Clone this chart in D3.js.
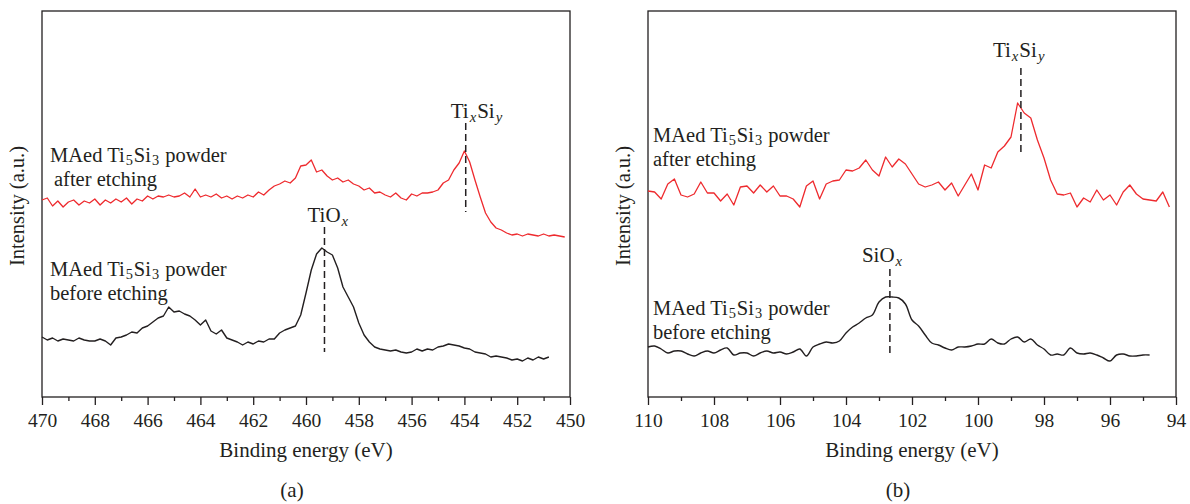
<!DOCTYPE html>
<html>
<head>
<meta charset="utf-8">
<script src="https://cdn.jsdelivr.net/npm/d3@7"></script>
<style>
  body { margin: 0; background: #fff; }
  svg { display: block; font-family: "Liberation Serif", "Times New Roman", serif; fill: #231f20; }
</style>
</head>
<body>
<svg id="chart" width="1190" height="504"></svg>
<script>
(function () {
  /* -- DATA ----------------------------------------------- */
  // spectra sampled every 0.2 eV from the start energy downwards (a.u.)
  var STEP = 0.2;

  // (a) Ti 2p region
  var aStart = 470;
  var aAfter = [
    197, 199, 191, 196, 190, 195, 197, 192, 196, 194,
    198, 192, 197, 194, 198, 195, 199, 193, 198, 196,
    201, 198, 201, 200, 202, 200, 201, 204, 200, 208,
    200, 202, 200, 203, 199, 201, 198, 201, 199, 202,
    200, 205, 202, 207, 211, 213, 216, 214, 219, 231,
    232, 237, 225, 227, 221, 217, 219, 215, 217, 213,
    211, 207, 209, 204, 205, 202, 200, 204, 199, 197,
    203, 201, 204, 204, 205, 207, 214, 217, 227, 234,
    246, 235, 217, 200, 184, 175, 169, 167, 164, 162,
    163, 161, 163, 162, 161, 163, 161, 162, 161, 160
  ];
  var aBefore = [
    60, 57, 59, 56, 58, 57, 56, 59, 57, 56,
    56, 58, 56, 52, 59, 60, 62, 65, 64, 69,
    71, 75, 79, 81, 90, 85, 86, 83, 81, 77,
    72, 77, 66, 63, 67, 59, 57, 55, 52, 55,
    53, 56, 55, 58, 58, 64, 67, 69, 71, 82,
    104, 127, 143, 149, 145, 142, 129, 110, 100, 90,
    74, 62, 55, 50, 48, 47, 46, 47, 45, 44,
    45, 48, 46, 48, 47, 50, 51, 53, 52, 51,
    49, 48, 45, 44, 43, 40, 41, 40, 39, 37,
    38, 36, 39, 37, 40, 38, 40
  ];
  var aTickLabels = [470, 468, 466, 464, 462, 460, 458, 456, 454, 452, 450];
  var aMinorTicks = [469, 467, 465, 463, 461, 459, 457, 455, 453, 451];

  // (b) Si 2p region
  var bStart = 110;
  var bAfter = [
    206, 205, 198, 213, 218, 202, 200, 203, 215, 204,
    204, 196, 203, 192, 210, 211, 204, 212, 205, 211,
    201, 201, 198, 190, 211, 216, 198, 213, 216, 217,
    227, 226, 229, 237, 227, 221, 240, 230, 238, 233,
    223, 213, 210, 212, 215, 207, 214, 201, 212, 223,
    207, 232, 229, 245, 251, 260, 294, 284, 279, 257,
    239, 217, 203, 202, 204, 190, 199, 195, 207, 197,
    202, 192, 205, 212, 203, 198, 197, 196, 205, 190
  ];
  var bBefore = [
    50, 51, 48, 44, 46, 46, 43, 41, 44, 46,
    44, 47, 49, 42, 44, 44, 41, 44, 46, 44,
    45, 43, 45, 48, 41, 50, 53, 55, 54, 56,
    64, 70, 74, 79, 82, 95, 100, 100, 99, 93,
    77, 71, 62, 54, 52, 49, 47, 50, 50, 51,
    53, 53, 58, 54, 53, 58, 60, 55, 58, 52,
    48, 42, 43, 42, 49, 44, 43, 44, 42, 39,
    36, 42, 43, 41, 41, 42, 42
  ];
  var bTickLabels = [110, 108, 106, 104, 102, 100, 98, 96, 94];
  var bMinorTicks = [109, 107, 105, 103, 101, 99, 97, 95];

  // peak markers: energy (eV) and dashed extent (a.u.)
  var aPeaks = [
    { parts: [['Ti'], ['x', 'sub i'], ['Si'], ['y', 'sub i']], e: 453.95, top: 274, bottom: 185, dx: -15, ty: 118 },
    { parts: [['TiO'], ['x', 'sub i']], e: 459.3, top: 170, bottom: 45, dx: -17, ty: 222 }
  ];
  var bPeaks = [
    { parts: [['Ti'], ['x', 'sub i'], ['Si'], ['y', 'sub i']], e: 98.7, top: 329, bottom: 245, dx: -28, ty: 57 },
    { parts: [['SiO'], ['x', 'sub i']], e: 102.67, top: 128, bottom: 40, dx: -28, ty: 262 }
  ];

  var SAMPLE = [['MAed Ti'], ['5', 'sub'], ['Si'], ['3', 'sub'], [' powder']];

  /* -- DRAW ----------------------------------------------- */
  var INK = '#231f20';
  var RED = '#ee2a2e';
  var TOP = 11, BOTTOM = 397;
  var FS = 21;
  var LABEL_FS = 20.5;

  var svg = d3.select('#chart');

  function richText(sel, x, y, parts, size, drop) {
    var t = sel.append('text')
      .attr('x', x)
      .attr('y', y)
      .attr('font-size', size)
      .attr('fill', INK);
    var shift = 0;
    parts.forEach(function (p) {
      var flags = p[1] || '';
      var want = flags.indexOf('sub') >= 0 ? drop : 0;
      var s = t.append('tspan').text(p[0]).attr('dy', want - shift);
      if (want || shift) s.attr('dx', 1);
      shift = want;
      if (want) s.attr('font-size', size * 0.7);
      if (/\bi\b/.test(flags)) s.attr('font-style', 'italic');
    });
    return t;
  }

  function series(start, values) {
    return values.map(function (v, i) { return { e: start - i * STEP, v: v }; });
  }

  function drawPanel(o) {
    var g = svg.append('g');

    var x = d3.scaleLinear().domain(o.domain).range([o.left, o.right]);
    var y = d3.scaleLinear().domain([0, 386]).range([BOTTOM, TOP]);

    // frame
    g.append('rect')
      .attr('x', o.left).attr('y', TOP)
      .attr('width', o.right - o.left).attr('height', BOTTOM - TOP)
      .attr('fill', 'none')
      .attr('stroke', INK)
      .attr('stroke-width', 1.3);

    // major ticks + labels
    var ax = g.append('g')
      .attr('transform', 'translate(0,' + BOTTOM + ')')
      .style('color', INK)
      .call(d3.axisBottom(x).tickValues(o.ticks).tickSize(8).tickFormat(d3.format('d')));
    ax.attr('font-family', null).attr('font-size', null);
    ax.select('.domain').remove();
    ax.selectAll('line').attr('stroke-width', 1.3);
    ax.selectAll('text').attr('y', 30).attr('dy', 0).attr('font-size', 19.5).attr('fill', INK);

    // minor ticks
    var mx = g.append('g')
      .attr('transform', 'translate(0,' + BOTTOM + ')')
      .style('color', INK)
      .call(d3.axisBottom(x).tickValues(o.minor).tickSize(4).tickFormat(''));
    mx.select('.domain').remove();
    mx.selectAll('line').attr('stroke-width', 1.3);

    // axis titles
    var cx = (o.left + o.right) / 2;
    g.append('text')
      .attr('x', cx).attr('y', 457)
      .attr('text-anchor', 'middle')
      .attr('font-size', FS)
      .attr('fill', INK)
      .text('Binding energy (eV)');

    g.append('text')
      .attr('transform', 'translate(' + (o.left - 18) + ',' + ((TOP + BOTTOM) / 2 + 2) + ') rotate(-90)')
      .attr('text-anchor', 'middle')
      .attr('font-size', 20.5)
      .attr('fill', INK)
      .text('Intensity (a.u.)');

    g.append('text')
      .attr('x', cx - 14).attr('y', 497)
      .attr('text-anchor', 'middle')
      .attr('font-size', FS)
      .attr('fill', INK)
      .text(o.caption);

    // spectra
    o.lines.forEach(function (l) {
      g.append('path')
        .datum(series(l.start, l.values))
        .attr('fill', 'none')
        .attr('stroke', l.color)
        .attr('stroke-width', l.width)
        .attr('stroke-linejoin', 'round')
        .attr('d', d3.line()
          .x(function (d) { return x(d.e); })
          .y(function (d) { return y(d.v); })
          .curve(l.curve || d3.curveLinear));
    });

    // peak markers
    o.peaks.forEach(function (p) {
      g.append('line')
        .attr('x1', x(p.e)).attr('x2', x(p.e))
        .attr('y1', y(p.top)).attr('y2', y(p.bottom))
        .attr('stroke', INK)
        .attr('stroke-width', 1.5)
        .attr('stroke-dasharray', '7,4');
      richText(g, x(p.e) + p.dx, p.ty, p.parts, FS, 4);
    });

    // sample labels (two lines)
    o.labels.forEach(function (l) {
      richText(g, l.x, l.y, SAMPLE, LABEL_FS, 2.5);
      g.append('text')
        .attr('x', l.x2).attr('y', l.y + 24)
        .attr('font-size', LABEL_FS)
        .attr('fill', INK)
        .text(l.text);
    });
  }

  drawPanel({
    left: 42, right: 570,
    domain: [470, 450],
    ticks: aTickLabels, minor: aMinorTicks,
    caption: '(a)',
    lines: [
      { start: aStart, values: aAfter, color: RED, width: 1.3 },
      { start: aStart, values: aBefore, color: INK, width: 1.4 }
    ],
    peaks: aPeaks,
    labels: [
      { x: 50, x2: 54, y: 162, text: 'after etching' },
      { x: 50, x2: 50, y: 276, text: 'before etching' }
    ]
  });

  drawPanel({
    left: 648, right: 1176,
    domain: [110, 94],
    ticks: bTickLabels, minor: bMinorTicks,
    caption: '(b)',
    lines: [
      { start: bStart, values: bAfter, color: RED, width: 1.3 },
      { start: bStart, values: bBefore, color: INK, width: 1.4, curve: d3.curveCatmullRom }
    ],
    peaks: bPeaks,
    labels: [
      { x: 653, x2: 653, y: 142, text: 'after etching' },
      { x: 653, x2: 653, y: 315, text: 'before etching' }
    ]
  });
})();
</script>
</body>
</html>
